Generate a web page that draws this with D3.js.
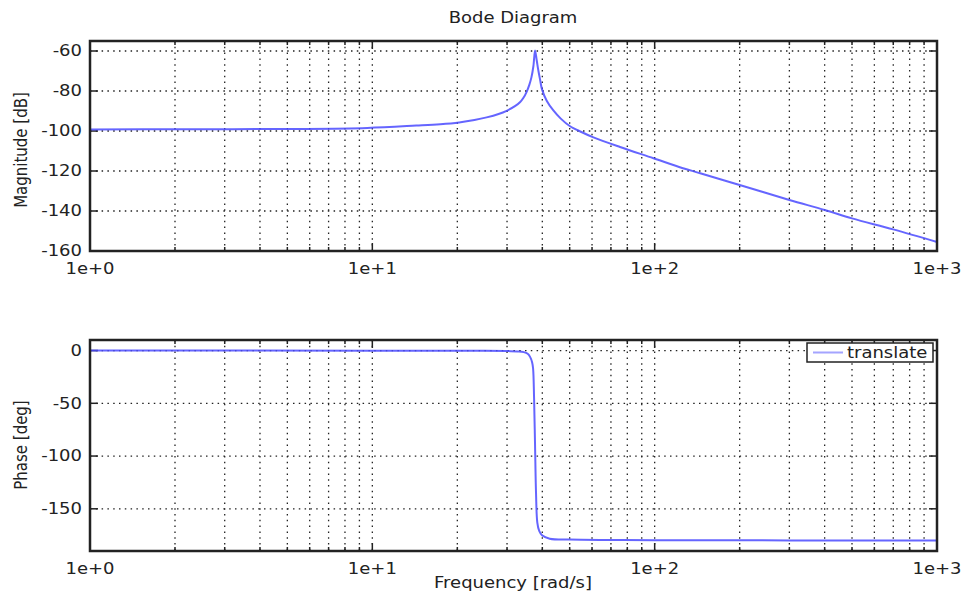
<!DOCTYPE html>
<html>
<head>
<meta charset="utf-8">
<script src="https://cdn.jsdelivr.net/npm/d3@7"></script>
<style>
  body { margin: 0; background: #fff; }
  text { font-family: "DejaVu Sans", sans-serif; font-size: 15px; fill: #222; }
</style>
</head>
<body>
<div id="chart"></div>
<script>
// values
var magFreq = [1, 2, 5.5, 9.6, 14.3, 17.4, 20.3, 23, 25.4, 28, 29.9, 32, 33.4, 34.3, 35.2, 36, 36.6, 37.2, 37.7, 38.2, 38.7, 39.3, 39.9, 41.5, 43.7, 46.5, 50, 55, 60.7, 75.4, 99, 126, 145, 200, 300, 400, 500, 700, 1000];
var magDb = [-99.2, -99.1, -99.0, -98.5, -97.3, -96.6, -95.7, -94.5, -93.2, -91.5, -89.9, -87.6, -85.5, -83.4, -80.4, -76.8, -73.2, -67.5, -59.8, -64.5, -69.5, -74.5, -79.2, -85, -89.6, -93.8, -97.5, -100.5, -103.2, -108, -113.6, -118.6, -121.1, -127, -134.5, -139.5, -143.7, -149.2, -155.5];

var phaseFreq = [1, 10, 25, 30, 33, 34.4, 35.5, 36.2, 36.8, 37.1, 37.4, 37.7, 38.0, 38.4, 39.0, 39.9, 42.5, 50, 70, 100, 1000];
var phaseDeg = [0, -0.1, -0.3, -0.5, -0.8, -1.5, -3, -6, -11, -17, -45, -90, -135, -163, -171, -175, -178.3, -179.2, -179.6, -179.8, -180];

var xTicks = [1, 10, 100, 1000];
var xTickLabels = ["1e+0", "1e+1", "1e+2", "1e+3"];
var magTicks = [-160, -140, -120, -100, -80, -60];
var phaseTicks = [-150, -100, -50, 0];

var width = 967, height = 595;
var left = 90, right = 937;
var stretch = "scale(1.2,1)";

var svg = d3.select("#chart")
    .append("svg")
    .attr("width", width)
    .attr("height", height);

var x = d3.scaleLog().domain([1, 1000]).range([left, right]);

// minor log ticks 2..9 in every decade
var minorTicks = [];
[1, 10, 100].forEach(function (dec) {
    for (var k = 2; k <= 9; k++) minorTicks.push(dec * k);
});

function drawPanel(top, bottom, yDomain, yTicks, freqs, vals, ylabel, labelY) {
    var y = d3.scaleLinear().domain(yDomain).range([bottom, top]);
    var g = svg.append("g");

    // dotted grid
    g.selectAll(".vgrid")
        .data(xTicks.concat(minorTicks).filter(function (d) { return d > 1 && d < 1000; }))
        .enter().append("line")
        .attr("x1", function (d) { return x(d); })
        .attr("x2", function (d) { return x(d); })
        .attr("y1", top).attr("y2", bottom)
        .attr("stroke", "#222").attr("stroke-width", 1.3)
        .attr("stroke-dasharray", "1.5,4.3");
    g.selectAll(".hgrid")
        .data(yTicks)
        .enter().append("line")
        .attr("x1", left).attr("x2", right)
        .attr("y1", function (d) { return y(d); })
        .attr("y2", function (d) { return y(d); })
        .attr("stroke", "#222").attr("stroke-width", 1.3)
        .attr("stroke-dasharray", "1.5,4.3");

    // inward ticks on all four sides
    var ticks = g.append("g").attr("stroke", "#222").attr("stroke-width", 1.5);
    xTicks.concat(minorTicks).forEach(function (d) {
        var len = xTicks.indexOf(d) >= 0 ? 8 : 4;
        ticks.append("line").attr("x1", x(d)).attr("x2", x(d)).attr("y1", bottom).attr("y2", bottom - len);
        ticks.append("line").attr("x1", x(d)).attr("x2", x(d)).attr("y1", top).attr("y2", top + len);
    });
    yTicks.forEach(function (d) {
        ticks.append("line").attr("x1", left).attr("x2", left + 8).attr("y1", y(d)).attr("y2", y(d));
        ticks.append("line").attr("x1", right).attr("x2", right - 8).attr("y1", y(d)).attr("y2", y(d));
    });

    // curve
    var pts = freqs.map(function (f, i) { return [f, vals[i]]; });
    g.append("path")
        .datum(pts)
        .attr("fill", "none")
        .attr("stroke", "#4a4aff")
        .attr("stroke-width", 2)
        .attr("stroke-opacity", 0.85)
        .attr("d", d3.line()
            .x(function (d) { return x(d[0]); })
            .y(function (d) { return y(d[1]); })
            .curve(d3.curveCatmullRom.alpha(0.5)));

    // frame
    g.append("rect")
        .attr("x", left).attr("y", top)
        .attr("width", right - left).attr("height", bottom - top)
        .attr("fill", "none").attr("stroke", "#222").attr("stroke-width", 2.5);

    // tick labels
    g.selectAll(".ylab")
        .data(yTicks)
        .enter().append("text")
        .attr("transform", function (d) { return "translate(82," + y(d) + ") " + stretch; })
        .attr("text-anchor", "end")
        .attr("dy", "0.36em")
        .text(function (d) { return d; });
    g.selectAll(".xlab")
        .data(xTicks)
        .enter().append("text")
        .attr("transform", function (d) { return "translate(" + x(d) + "," + (bottom + 23) + ") " + stretch; })
        .attr("text-anchor", "middle")
        .text(function (d, i) { return xTickLabels[i]; });

    g.append("text")
        .attr("transform", "translate(27," + labelY + ") " + stretch + " rotate(-90)")
        .attr("text-anchor", "middle")
        .text(ylabel);

    return y;
}

drawPanel(41, 251, [-160, -55], magTicks, magFreq, magDb, "Magnitude [dB]", 150);
drawPanel(340, 551, [-190, 10], phaseTicks, phaseFreq, phaseDeg, "Phase [deg]", 445);

svg.append("text")
    .attr("transform", "translate(513,23) " + stretch)
    .attr("text-anchor", "middle")
    .text("Bode Diagram");

svg.append("text")
    .attr("transform", "translate(513,588) " + stretch)
    .attr("text-anchor", "middle")
    .text("Frequency [rad/s]");

// legend
var legend = svg.append("g");
legend.append("rect")
    .attr("x", 807).attr("y", 343)
    .attr("width", 126).attr("height", 19)
    .attr("fill", "#fff").attr("stroke", "#222").attr("stroke-width", 1.5);
legend.append("line")
    .attr("x1", 813).attr("x2", 843).attr("y1", 352.5).attr("y2", 352.5)
    .attr("stroke", "#4a4aff").attr("stroke-width", 2).attr("stroke-opacity", 0.5);
legend.append("text")
    .attr("transform", "translate(847,358) " + stretch)
    .text("translate");
</script>
</body>
</html>
